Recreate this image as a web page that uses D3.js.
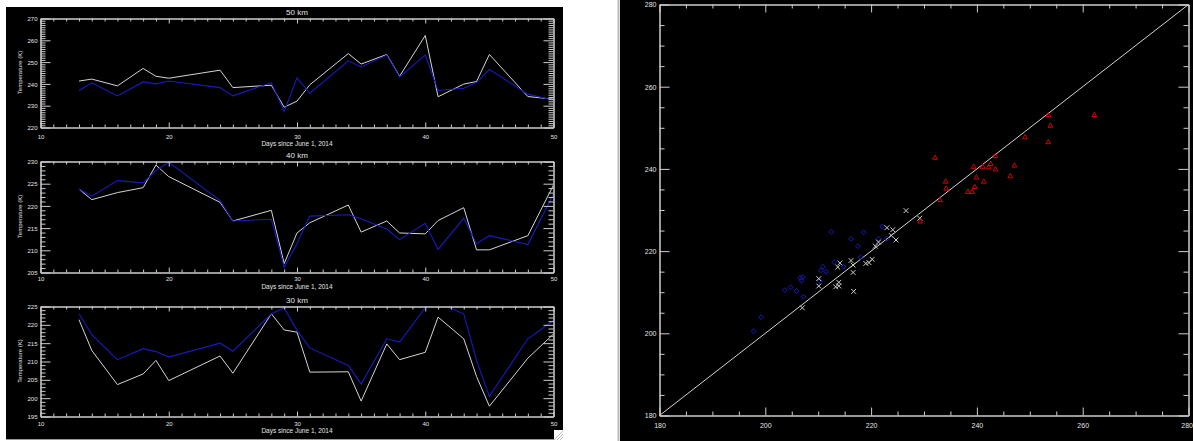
<!DOCTYPE html>
<html><head><meta charset="utf-8">
<script src="https://cdn.jsdelivr.net/npm/d3@7"></script>
<style>body{margin:0;background:#fff}svg{display:block}</style>
</head><body><svg id="c" width="1193" height="441"></svg>
<script>
// ---- data ----
const days = [13,14,16,18,19,20,24,25,28,29,30,31,34,35,37,38,40,41,43,44,45,48,50];
const t50White = [241.3,242.2,239.1,247.1,243.5,242.6,246.3,238.3,239.4,229.3,232.1,239.6,253.9,249.1,253.5,243.5,262.2,234.1,239.9,241.1,253.5,234.2,233.0];
const t50Blue  = [237.0,240.5,234.5,240.9,240.0,241.3,238.3,234.5,240.6,227.3,242.8,235.7,250.6,247.8,253.2,243.2,253.2,237.0,238.0,240.6,246.6,235.3,232.5];
const t40White = [223.8,221.4,223.0,224.1,229.2,226.6,220.8,216.6,219.0,207.0,213.9,216.2,220.2,214.1,216.6,213.9,213.7,216.7,219.6,210.1,210.1,213.3,224.7];
const t40Blue  = [223.8,222.2,225.7,225.2,228.0,229.85,221.2,216.6,217.0,206.2,211.5,217.7,218.0,217.1,214.8,212.4,216.1,210.2,217.2,211.5,213.3,211.3,222.7];
const t30White = [221.4,213.0,203.7,206.6,210.3,204.8,211.5,206.8,223.0,218.6,218.0,207.1,207.2,199.2,214.8,210.5,212.5,222.1,216.2,205.9,197.8,210.9,217.5];
const t30Blue  = [223.0,217.3,210.5,213.5,212.7,211.2,215.0,212.8,223.0,224.6,218.5,213.7,208.9,203.9,216.2,215.3,224.7,226.0,223.0,210.3,200.5,216.2,221.2];
const panelTitles = ["50 km","40 km","30 km"];
const dayTicks = [10,20,30,40,50];
const yTicks50 = [220,230,240,250,260,270];
const yTicks40 = [205,210,215,220,225,230];
const yTicks30 = [195,200,205,210,215,220,225];
const scatterTicks = [180,200,220,240,260,280];
const xLabel = "Days since June 1, 2014";
const yLabel = "Temperature (K)";

// ---- styles ----
const AX = "#cdcdcd", TXT = "#e4e4e4", WHITE = "#d4d4d4", BLUE = "#1a1ac0", RED = "#d40000";
const FONT = "Liberation Sans, Arial, sans-serif";

const svg = d3.select("#c");
svg.append("rect").attr("width",1193).attr("height",441).attr("fill","#fff");
svg.append("rect").attr("x",6).attr("y",7).attr("width",557).attr("height",432).attr("fill","#000");
svg.append("line").attr("x1",6).attr("x2",563).attr("y1",439.5).attr("y2",439.5).attr("stroke","#999");
svg.append("rect").attr("x",620).attr("y",0).attr("width",573).attr("height",441).attr("fill","#000");
svg.append("line").attr("x1",618.5).attr("x2",618.5).attr("y1",0).attr("y2",441).attr("stroke","#bbb").attr("stroke-width",2);
// resize grip
const grip = svg.append("g");
grip.append("rect").attr("x",554).attr("y",430).attr("width",9).attr("height",10).attr("fill","#fff");
[3,6,9].forEach(o=>grip.append("line").attr("x1",563-o).attr("y1",440).attr("x2",563).attr("y2",440-o).attr("stroke","#aaa").attr("stroke-width",0.8));

function styleAxis(g){
  g.selectAll("path.domain").attr("stroke",AX);
  g.selectAll(".tick line").attr("stroke",AX);
  g.selectAll(".tick text").attr("fill",TXT).attr("font-family",FONT);
}

// ---- left panels ----
const panels = [
  {title:panelTitles[0], white:t50White, blue:t50Blue, ticks:yTicks50, top:18, bottom:127, tickY:11, labY:18.5},
  {title:panelTitles[1], white:t40White, blue:t40Blue, ticks:yTicks40, top:161, bottom:272, tickY:8.5, labY:17},
  {title:panelTitles[2], white:t30White, blue:t30Blue, ticks:yTicks30, top:306, bottom:416, tickY:9, labY:17}
];
const xL = 40.5, xR = 553.5;
panels.forEach((p,i)=>{
  const x = d3.scaleLinear().domain([dayTicks[0], dayTicks[dayTicks.length-1]]).range([xL,xR]);
  const yd = [p.ticks[0], p.ticks[p.ticks.length-1]];
  const y = d3.scaleLinear().domain(yd).range([p.bottom+0.5, p.top+0.5]);
  const g = svg.append("g");
  const minorX = d3.range(dayTicks[0], dayTicks[dayTicks.length-1]+1, 1).filter(d=>!dayTicks.includes(d));
  const minorY = d3.range(yd[0], yd[1]+1, 1).filter(d=>!p.ticks.includes(d));
  // clip
  const cid = "clip"+i;
  svg.append("clipPath").attr("id",cid).append("rect").attr("x",xL).attr("y",p.top+0.5).attr("width",xR-xL).attr("height",p.bottom-p.top);
  const line = d3.line().x((d,j)=>x(days[j])).y(d=>y(d));
  g.append("path").datum(p.white).attr("d",line).attr("fill","none").attr("stroke",WHITE).attr("stroke-width",1).attr("clip-path",`url(#${cid})`);
  g.append("path").datum(p.blue).attr("d",line).attr("fill","none").attr("stroke",BLUE).attr("stroke-width",1.1).attr("clip-path",`url(#${cid})`);
  // axes
  const bot = g.append("g").attr("transform",`translate(0,${p.bottom+0.5})`)
    .call(d3.axisBottom(x).tickValues(dayTicks).tickSize(-5).tickSizeOuter(0).tickPadding(0).tickFormat(d3.format("d")));
  bot.selectAll(".tick text").attr("y",p.tickY).attr("dy",0).attr("font-size",6);
  styleAxis(bot);
  const botm = g.append("g").attr("transform",`translate(0,${p.bottom+0.5})`)
    .call(d3.axisBottom(x).tickValues(minorX).tickSize(-3).tickSizeOuter(0).tickFormat(""));
  styleAxis(botm);
  const topA = g.append("g").attr("transform",`translate(0,${p.top+0.5})`)
    .call(d3.axisTop(x).tickValues(dayTicks).tickSize(-5).tickSizeOuter(0).tickFormat(""));
  styleAxis(topA);
  const topm = g.append("g").attr("transform",`translate(0,${p.top+0.5})`)
    .call(d3.axisTop(x).tickValues(minorX).tickSize(-3).tickSizeOuter(0).tickFormat(""));
  styleAxis(topm);
  const left = g.append("g").attr("transform",`translate(${xL},0)`)
    .call(d3.axisLeft(y).tickValues(p.ticks).tickSize(-10).tickSizeOuter(0).tickPadding(0).tickFormat(d3.format("d")));
  left.selectAll(".tick text").attr("x",-3).attr("dy","0.35em").attr("font-size",6);
  styleAxis(left);
  const leftm = g.append("g").attr("transform",`translate(${xL},0)`)
    .call(d3.axisLeft(y).tickValues(minorY).tickSize(-5).tickSizeOuter(0).tickFormat(""));
  styleAxis(leftm);
  const right = g.append("g").attr("transform",`translate(${xR},0)`)
    .call(d3.axisRight(y).tickValues(p.ticks).tickSize(-10).tickSizeOuter(0).tickFormat(""));
  styleAxis(right);
  const rightm = g.append("g").attr("transform",`translate(${xR},0)`)
    .call(d3.axisRight(y).tickValues(minorY).tickSize(-5).tickSizeOuter(0).tickFormat(""));
  styleAxis(rightm);
  // texts
  g.append("text").attr("x",(xL+xR)/2).attr("y",p.top-3.5).attr("text-anchor","middle")
    .attr("fill",TXT).attr("font-family",FONT).attr("font-size",8).text(p.title);
  g.append("text").attr("x",(xL+xR)/2).attr("y",p.bottom+p.labY).attr("text-anchor","middle")
    .attr("fill",TXT).attr("font-family",FONT).attr("font-size",6.5).text(xLabel);
  g.append("text").attr("transform",`translate(22,${(p.top+p.bottom)/2}) rotate(-90)`).attr("text-anchor","middle")
    .attr("fill",TXT).attr("font-family",FONT).attr("font-size",6).text(yLabel);
});

// ---- scatter ----
const sx = d3.scaleLinear().domain([scatterTicks[0], scatterTicks[scatterTicks.length-1]]).range([659.5,1188.5]);
const sy = d3.scaleLinear().domain([scatterTicks[0], scatterTicks[scatterTicks.length-1]]).range([415.5,4.5]);
const sg = svg.append("g");
const minorS = d3.range(180,281,5).filter(d=>!scatterTicks.includes(d));
const sb = sg.append("g").attr("transform","translate(0,415.5)")
  .call(d3.axisBottom(sx).tickValues(scatterTicks).tickSize(-8).tickSizeOuter(0).tickFormat(d3.format("d")));
sb.selectAll(".tick text").attr("y",10).attr("dy","0.35em").attr("font-size",7);
sb.selectAll(".tick text").filter(d=>d===scatterTicks[scatterTicks.length-1]).attr("text-anchor","end").attr("x",4);
styleAxis(sb);
styleAxis(sg.append("g").attr("transform","translate(0,415.5)").call(d3.axisBottom(sx).tickValues(minorS).tickSize(-4).tickSizeOuter(0).tickFormat("")));
styleAxis(sg.append("g").attr("transform","translate(0,4.5)").call(d3.axisTop(sx).tickValues(scatterTicks).tickSize(-8).tickSizeOuter(0).tickFormat("")));
styleAxis(sg.append("g").attr("transform","translate(0,4.5)").call(d3.axisTop(sx).tickValues(minorS).tickSize(-4).tickSizeOuter(0).tickFormat("")));
const sl = sg.append("g").attr("transform","translate(659.5,0)")
  .call(d3.axisLeft(sy).tickValues(scatterTicks).tickSize(-10).tickSizeOuter(0).tickFormat(d3.format("d")));
sl.selectAll(".tick text").attr("x",-3).attr("dy","0.35em").attr("font-size",7);
styleAxis(sl);
styleAxis(sg.append("g").attr("transform","translate(659.5,0)").call(d3.axisLeft(sy).tickValues(minorS).tickSize(-5).tickSizeOuter(0).tickFormat("")));
styleAxis(sg.append("g").attr("transform","translate(1188.5,0)").call(d3.axisRight(sy).tickValues(scatterTicks).tickSize(-10).tickSizeOuter(0).tickFormat("")));
styleAxis(sg.append("g").attr("transform","translate(1188.5,0)").call(d3.axisRight(sy).tickValues(minorS).tickSize(-5).tickSizeOuter(0).tickFormat("")));
// 1:1 line
sg.append("line").attr("x1",sx(180)).attr("y1",sy(180)).attr("x2",sx(280)).attr("y2",sy(280)).attr("stroke",WHITE).attr("stroke-width",1);
// 30 km diamonds
const r = 2.4;
sg.append("g").selectAll("path").data(t30White.map((w,j)=>[w,t30Blue[j]])).join("path")
  .attr("d",d=>{const X=sx(d[0]),Y=sy(d[1]);return `M${X},${Y-r}L${X+r},${Y}L${X},${Y+r}L${X-r},${Y}Z`;})
  .attr("fill","none").attr("stroke",BLUE).attr("stroke-width",1);
// 40 km crosses
sg.append("g").selectAll("path").data(t40White.map((w,j)=>[w,t40Blue[j]])).join("path")
  .attr("d",d=>{const X=sx(d[0]),Y=sy(d[1]),q=2.4;return `M${X-q},${Y-q}L${X+q},${Y+q}M${X-q},${Y+q}L${X+q},${Y-q}`;})
  .attr("fill","none").attr("stroke","#cfcfcf").attr("stroke-width",1);
// 50 km triangles
sg.append("g").selectAll("path").data(t50White.map((w,j)=>[w,t50Blue[j]])).join("path")
  .attr("d",d=>{const X=sx(d[0]),Y=sy(d[1]),q=2.4;return `M${X},${Y-q}L${X+q},${Y+q*0.8}L${X-q},${Y+q*0.8}Z`;})
  .attr("fill","none").attr("stroke",RED).attr("stroke-width",1);
</script></body></html>
